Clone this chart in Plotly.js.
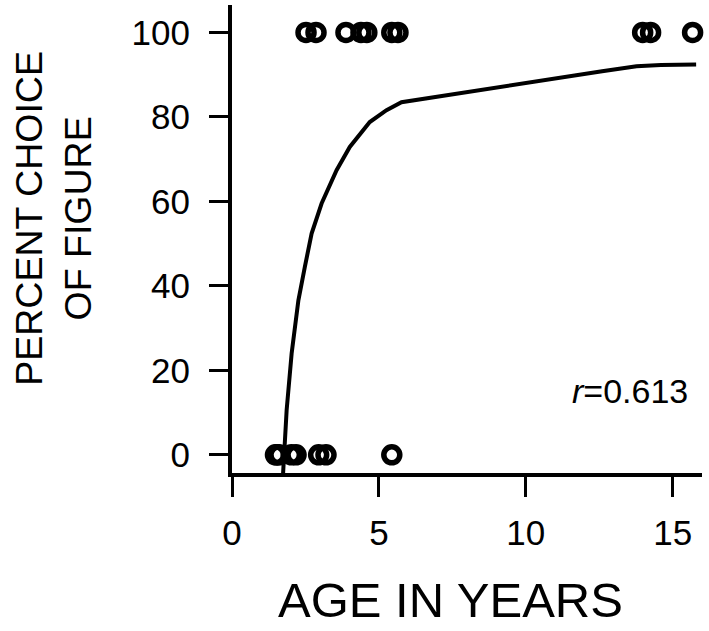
<!DOCTYPE html>
<html>
<head>
<meta charset="utf-8">
<script src="https://cdn.plot.ly/plotly-3.0.1.min.js"></script>
<style>html,body{margin:0;padding:0;background:#fff;}#chart{width:709px;height:631px;}</style>
</head>
<body>
<div id="chart"></div>
<script>
// Ages of children who chose the figure (100%) or not (0%)
const ageTop = [2.52, 2.86, 3.88, 4.39, 4.59, 5.44, 5.65, 13.98, 14.25, 15.68];
const pctTop = [100, 100, 100, 100, 100, 100, 100, 100, 100, 100];
const ageBottom = [1.48, 1.53, 1.6, 2.02, 2.18, 2.95, 3.2, 5.44];
const pctBottom = [0, 0, 0, 0, 0, 0, 0, 0];
// Fitted curve
const fitAge = [1.74, 1.86, 2.03, 2.26, 2.48, 2.71, 3.05, 3.56, 4.01, 4.69, 5.26, 5.77, 12.6, 13.77, 14.6, 15.8];
const fitPct = [-4.3, 10.6, 24.0, 36.6, 44.5, 52.4, 59.5, 67.4, 72.9, 78.8, 81.6, 83.5, 90.8, 92.0, 92.3, 92.4];
const xTicks = [0, 5, 10, 15];
const yTicks = [0, 20, 40, 60, 80, 100];
const xTitle = 'AGE IN YEARS';
const yTitle = 'PERCENT CHOICE<br>OF FIGURE';
const rLabel = '<i>r</i>=0.613';

const FONT = 'Liberation Sans, Arial, sans-serif';
const marker = {symbol: 'circle-open', size: 16, color: '#000', line: {width: 5.5, color: '#000'}};

const data = [
  {x: fitAge, y: fitPct, mode: 'lines', line: {color: '#000', width: 4}, hoverinfo: 'skip'},
  {x: ageTop, y: pctTop, mode: 'markers', marker: marker, cliponaxis: false},
  {x: ageBottom, y: pctBottom, mode: 'markers', marker: marker, cliponaxis: false}
];

const layout = {
  width: 709, height: 631,
  margin: {l: 232, r: 7, t: 5, b: 158, pad: 0},
  paper_bgcolor: '#fff', plot_bgcolor: '#fff',
  showlegend: false,
  font: {family: FONT, color: '#000'},
  xaxis: {
    range: [0, 16], tickvals: xTicks, ticktext: xTicks.map(String),
    showline: true, linecolor: '#000', linewidth: 4, mirror: false,
    ticks: 'outside', ticklen: 20, tickwidth: 3, tickcolor: '#000',
    showgrid: false, zeroline: false,
    tickfont: {size: 35, family: FONT, color: '#000'},
    ticklabelstandoff: 6,
    automargin: false
  },
  yaxis: {
    range: [-4.3, 106.5], tickvals: yTicks, ticktext: yTicks.map(String),
    showline: true, linecolor: '#000', linewidth: 4,
    ticks: 'outside', ticklen: 19, tickwidth: 3, tickcolor: '#000',
    showgrid: false, zeroline: false,
    tickfont: {size: 35, family: FONT, color: '#000'},
    ticklabelstandoff: 12,
    automargin: false
  },
  annotations: [
    {
      x: 15.6, y: 15.0, xref: 'x', yref: 'y', xanchor: 'right', yanchor: 'middle',
      text: rLabel, showarrow: false, font: {size: 34, family: FONT, color: '#000'}
    },
    {
      x: 0.464, y: -0.333, xref: 'paper', yref: 'paper', xanchor: 'center', yanchor: 'bottom',
      text: xTitle, showarrow: false, font: {size: 49, family: FONT, color: '#000'}
    },
    {
      x: -0.379, y: 0.545, xref: 'paper', yref: 'paper', xanchor: 'center', yanchor: 'middle',
      textangle: -90, text: yTitle, showarrow: false, align: 'center',
      font: {size: 37.5, family: FONT, color: '#000'}
    }
  ]
};

Plotly.newPlot('chart', data, layout, {staticPlot: true, displayModeBar: false});
</script>
</body>
</html>
